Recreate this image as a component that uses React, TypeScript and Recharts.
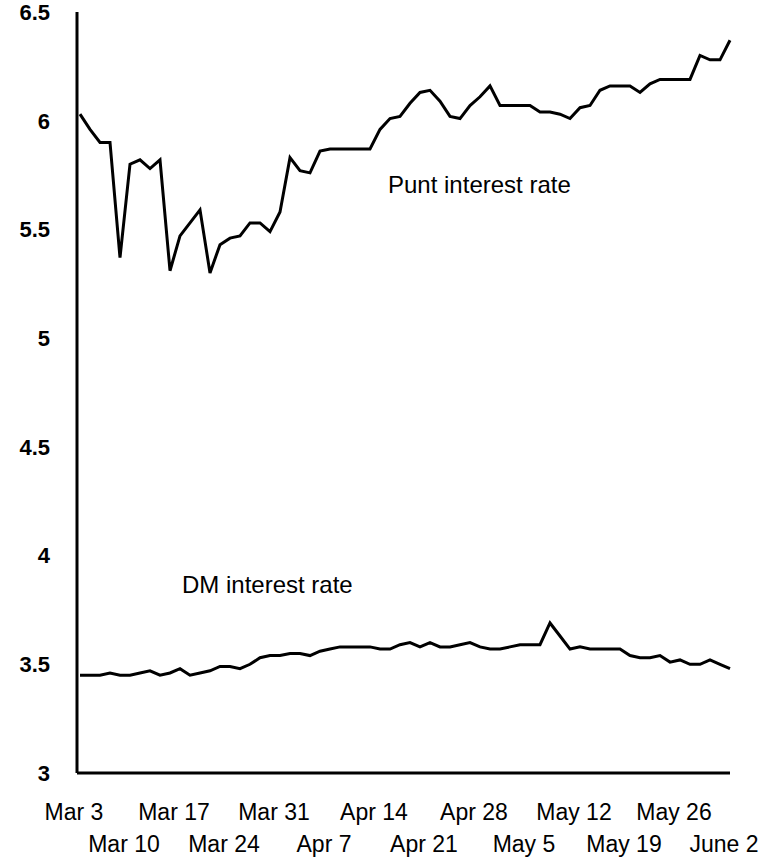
import React from "react";
import { LineChart, Line, XAxis, YAxis } from "recharts";

// one label per week, every 5th trading day
const weekLabels = [
  "Mar 3", "Mar 10", "Mar 17", "Mar 24", "Mar 31", "Apr 7", "Apr 14",
  "Apr 21", "Apr 28", "May 5", "May 12", "May 19", "May 26", "June 2",
];

const yTicks = [3, 3.5, 4, 4.5, 5, 5.5, 6, 6.5];

// daily values
const puntRate = [
  6.03, 5.96, 5.9, 5.9, 5.37, 5.8, 5.82, 5.78, 5.82, 5.31,
  5.47, 5.53, 5.59, 5.3, 5.43, 5.46, 5.47, 5.53, 5.53, 5.49,
  5.58, 5.83, 5.77, 5.76, 5.86, 5.87, 5.87, 5.87, 5.87, 5.87,
  5.96, 6.01, 6.02, 6.08, 6.13, 6.14, 6.09, 6.02, 6.01, 6.07,
  6.11, 6.16, 6.07, 6.07, 6.07, 6.07, 6.04, 6.04, 6.03, 6.01,
  6.06, 6.07, 6.14, 6.16, 6.16, 6.16, 6.13, 6.17, 6.19, 6.19,
  6.19, 6.19, 6.3, 6.28, 6.28, 6.37,
];

const dmRate = [
  3.45, 3.45, 3.45, 3.46, 3.45, 3.45, 3.46, 3.47, 3.45, 3.46,
  3.48, 3.45, 3.46, 3.47, 3.49, 3.49, 3.48, 3.5, 3.53, 3.54,
  3.54, 3.55, 3.55, 3.54, 3.56, 3.57, 3.58, 3.58, 3.58, 3.58,
  3.57, 3.57, 3.59, 3.6, 3.58, 3.6, 3.58, 3.58, 3.59, 3.6,
  3.58, 3.57, 3.57, 3.58, 3.59, 3.59, 3.59, 3.69, 3.63, 3.57,
  3.58, 3.57, 3.57, 3.57, 3.57, 3.54, 3.53, 3.53, 3.54, 3.51,
  3.52, 3.5, 3.5, 3.52, 3.5, 3.48,
];

const data = puntRate.map((p, i) => ({ day: i, punt: p, dm: dmRate[i] }));
const weekTicks = weekLabels.map((_, k) => k * 5);

const FONT = "'Liberation Sans', Arial, sans-serif";

function DateTick(props: any) {
  const { x, y, payload } = props;
  const k = Math.round(payload.value / 5);
  const lower = k % 2 === 1;
  return (
    <text
      x={x - 6}
      y={y}
      dy={lower ? 79 : 47}
      textAnchor="middle"
      fontFamily={FONT}
      fontSize={23}
      fill="#000"
    >
      {weekLabels[k]}
    </text>
  );
}

export default function App() {
  return (
    <div style={{ position: "absolute", left: 0, top: 0, width: 761, height: 865, background: "#fff" }}>
      <LineChart
        width={761}
        height={865}
        data={data}
        margin={{ top: 12, right: 31, bottom: 0, left: 0 }}
      >
        <XAxis
          dataKey="day"
          type="number"
          domain={[0, 65]}
          ticks={weekTicks}
          interval={0}
          tick={<DateTick />}
          tickLine={false}
          tickSize={0}
          tickMargin={0}
          axisLine={{ stroke: "#000", strokeWidth: 3 }}
          height={92}
          padding={{ left: 3, right: 0 }}
        />
        <YAxis
          domain={[3, 6.5]}
          ticks={yTicks}
          interval={0}
          width={77}
          tickLine={false}
          tickSize={0}
          tickMargin={27}
          axisLine={{ stroke: "#000", strokeWidth: 3 }}
          tick={{ fill: "#000", fontFamily: FONT, fontSize: 22, fontWeight: "bold" }}
        />
        <Line
          type="linear"
          dataKey="punt"
          stroke="#000"
          strokeWidth={3}
          dot={false}
          isAnimationActive={false}
        />
        <Line
          type="linear"
          dataKey="dm"
          stroke="#000"
          strokeWidth={3}
          dot={false}
          isAnimationActive={false}
        />
      </LineChart>
      <svg
        width={761}
        height={865}
        style={{ position: "absolute", left: 0, top: 0, pointerEvents: "none" }}
      >
        <text x={388} y={193} fontFamily={FONT} fontSize={24} fill="#000">
          Punt interest rate
        </text>
        <text x={182} y={593} fontFamily={FONT} fontSize={24} fill="#000">
          DM interest rate
        </text>
      </svg>
    </div>
  );
}
